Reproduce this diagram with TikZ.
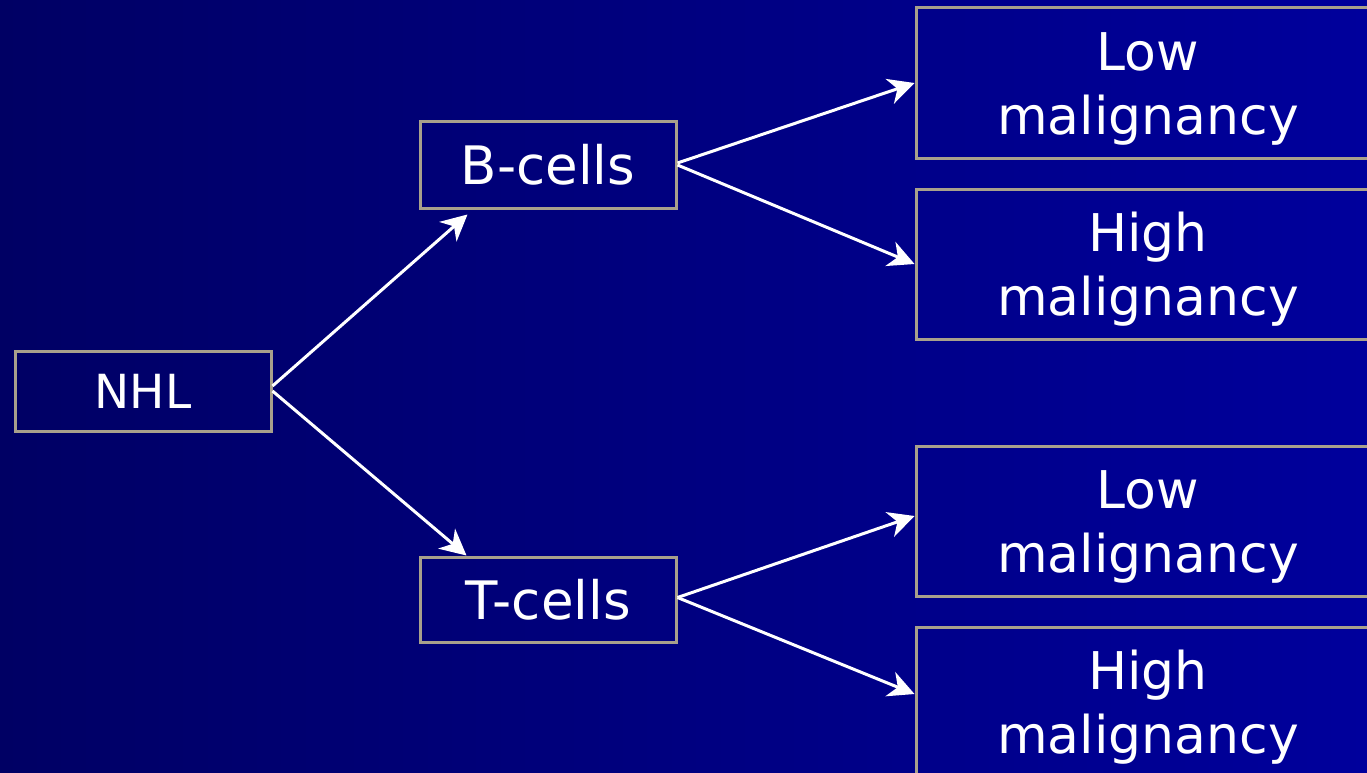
\documentclass[tikz,border=0pt]{standalone}
\usepackage{fontspec}
\setmainfont{DejaVu Sans}
\usetikzlibrary{arrows.meta}
\definecolor{bgleft}{RGB}{0,0,100}
\definecolor{bgright}{RGB}{0,0,156}
\definecolor{frame}{RGB}{168,160,140}
\newcommand{\firstline}{\rule{0pt}{50pt}}
\tikzset{
  box/.style={draw=frame, line width=3pt, rectangle, text=white, align=center, inner sep=0pt},
  small/.style={box, minimum width=256pt},
  wide/.style={box, minimum width=464pt, minimum height=150pt,
    font=\fontsize{52}{64}\selectfont},
  link/.style={draw=white, line width=3pt, -{Stealth[length=26pt,width=26pt,inset=8pt]}}
}
\begin{document}
\begin{tikzpicture}[x=1pt, y=-1pt]
  % page and background
  \useasboundingbox (0,0) rectangle (1367,773);
  \shade[left color=bgleft, right color=bgright] (0,0) rectangle (1367,773);
  \begin{scope}
    \clip (0,0) rectangle (1367,773);
    % first level
    \node[small, minimum height=80pt, font=\fontsize{47}{56}\selectfont] (nhl) at (143,391) {NHL};
    % second level
    \node[small, minimum height=86pt, font=\fontsize{53}{64}\selectfont] (bcells) at (548,165) {B-cells};
    \node[small, minimum height=85pt, font=\fontsize{53}{64}\selectfont] (tcells) at (548,599.5) {T-cells};
    % third level
    \node[wide] (low1)  at (1148,83)  {\firstline Low\\malignancy};
    \node[wide] (high1) at (1148,264) {\firstline High\\malignancy};
    \node[wide] (low2)  at (1148,521) {\firstline Low\\malignancy};
    \node[wide] (high2) at (1148,702) {\firstline High\\malignancy};
    % connectors
    \draw[link] ([yshift=5pt]nhl.east) -- ([xshift=49pt,yshift=-5pt]bcells.south west);
    \draw[link] (nhl.east) -- ([xshift=48pt]tcells.north west);
    \draw[link] ([yshift=2pt]bcells.east) -- (low1.west);
    \draw[link] (bcells.east) -- (high1.west);
    \draw[link] ([yshift=2pt]tcells.east) -- ([yshift=5pt]low2.west);
    \draw[link] ([yshift=2pt]tcells.east) -- ([yshift=8pt]high2.west);
  \end{scope}
\end{tikzpicture}
\end{document}
